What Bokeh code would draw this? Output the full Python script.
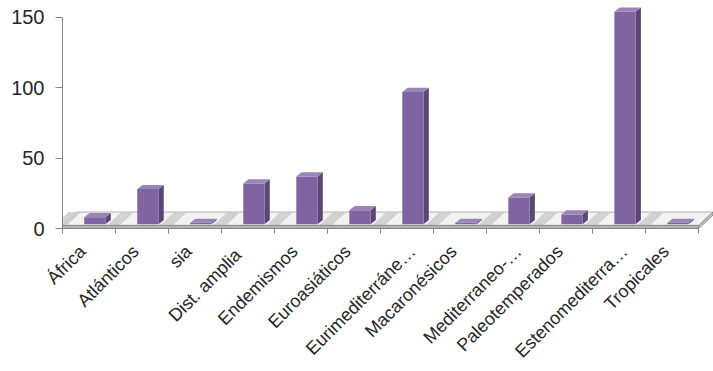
from math import pi
from bokeh.plotting import figure
from bokeh.models import Range1d, FixedTicker, LinearAxis
from bokeh.embed import file_html
from bokeh.resources import INLINE

categories = ["África", "Atlánticos", "sia", "Dist.  amplia", "Endemismos", "Euroasiáticos",
              "Eurimediterráne…", "Macaronésicos", "Mediterraneo-…", "Paleotemperados",
              "Estenomediterra…", "Tropicales"]
values = [5, 25, 1, 29, 34, 10, 94, 1, 19, 7, 151, 1]
y_ticks = [0, 50, 100, 150]

n = len(categories)
centers = [i + 0.5 for i in range(n)]
boundaries = list(range(n + 1))

# style constants (3D look)
FLOOR_DX = 0.27     # depth of floor in x units
FLOOR_DY = 9.5      # depth of floor in y units
FLOOR_T = 2.2       # floor thickness
BAR_BASE = 3.0
BAR_OFF = 0.11
BAR_W = 0.40
BAR_DX = 0.10
BAR_DY = 3.0

p = figure(width=713, height=371,
           x_range=Range1d(0, n + FLOOR_DX + 0.01), y_range=Range1d(0, 158.5),
           output_backend="svg", toolbar_location=None,
           x_axis_type=None, y_axis_type=None,
           min_border_left=62, min_border_bottom=120, min_border_top=5, min_border_right=0)
p.outline_line_color = None
p.xgrid.visible = False
p.ygrid.visible = False
p.background_fill_color = "white"
p.border_fill_color = "white"

# floor
p.patch([0, n, n + FLOOR_DX, FLOOR_DX], [FLOOR_T, FLOOR_T, FLOOR_T + FLOOR_DY, FLOOR_T + FLOOR_DY],
        fill_color="#f3f3f3", line_color="#b5b5b5", line_width=1)
stripe_xs = [[b - 0.16, b + 0.08, b + 0.08 + FLOOR_DX, b - 0.16 + FLOOR_DX] for b in boundaries[:-1]]
stripe_ys = [[FLOOR_T, FLOOR_T, FLOOR_T + FLOOR_DY, FLOOR_T + FLOOR_DY] for _ in boundaries[:-1]]
p.patches(stripe_xs, stripe_ys, fill_color="#c9c9c9", fill_alpha=0.8, line_color=None)
p.patch([0, n, n, 0], [0, 0, FLOOR_T, FLOOR_T], fill_color="#b3b3b3", line_color="#8c8c8c", line_width=1)
p.patch([n, n + FLOOR_DX, n + FLOOR_DX, n], [0, FLOOR_DY, FLOOR_DY + FLOOR_T, FLOOR_T],
        fill_color="#c4c4c4", line_color="#8c8c8c", line_width=1)

# bars
L = [c + BAR_OFF - BAR_W / 2 for c in centers]
R = [c + BAR_OFF + BAR_W / 2 for c in centers]
T = [BAR_BASE + v for v in values]
side_xs = [[r, r + BAR_DX, r + BAR_DX, r] for r in R]
side_ys = [[BAR_BASE, BAR_BASE + BAR_DY, t + BAR_DY, t] for t in T]
top_xs = [[l, r, r + BAR_DX, l + BAR_DX] for l, r in zip(L, R)]
top_ys = [[t, t, t + BAR_DY, t + BAR_DY] for t in T]
p.patches(side_xs, side_ys, fill_color="#5b4675", line_color=None)
p.vbar(x=[c + BAR_OFF for c in centers], bottom=BAR_BASE, top=T, width=BAR_W,
       fill_color="#8064a2", line_color=None)
p.patches(top_xs, top_ys, fill_color="#9a85b8", line_color=None)

# x axis: ticks at category boundaries, rotated category labels (truncated ones sit further right)
label_pos = [c + (0.10 if name.endswith("…") else -0.12) for c, name in zip(centers, categories)]
xaxis = LinearAxis(ticker=FixedTicker(ticks=label_pos, minor_ticks=boundaries),
                   major_label_overrides={x: name for x, name in zip(label_pos, categories)},
                   bounds=(0, n))
xaxis.axis_line_color = "#868686"
xaxis.major_tick_line_color = None
xaxis.major_tick_out = 6
xaxis.minor_tick_line_color = "#868686"
xaxis.minor_tick_out = 5
xaxis.minor_tick_in = 0
xaxis.major_label_orientation = pi / 4
xaxis.major_label_text_font = "Liberation Sans"
xaxis.major_label_text_font_size = "18px"
xaxis.major_label_text_color = "#262626"
xaxis.major_label_standoff = 14
p.add_layout(xaxis, "below")

yaxis = LinearAxis(ticker=FixedTicker(ticks=y_ticks), bounds=(0, 150))
yaxis.axis_line_color = "#868686"
yaxis.major_tick_line_color = "#868686"
yaxis.major_tick_out = 7
yaxis.major_tick_in = 0
yaxis.minor_tick_line_color = None
yaxis.major_label_text_font = "Liberation Sans"
yaxis.major_label_text_font_size = "20px"
yaxis.major_label_text_color = "#262626"
yaxis.major_label_standoff = 11
p.add_layout(yaxis, "left")

open("out.html", "w").write(file_html(p, INLINE))
